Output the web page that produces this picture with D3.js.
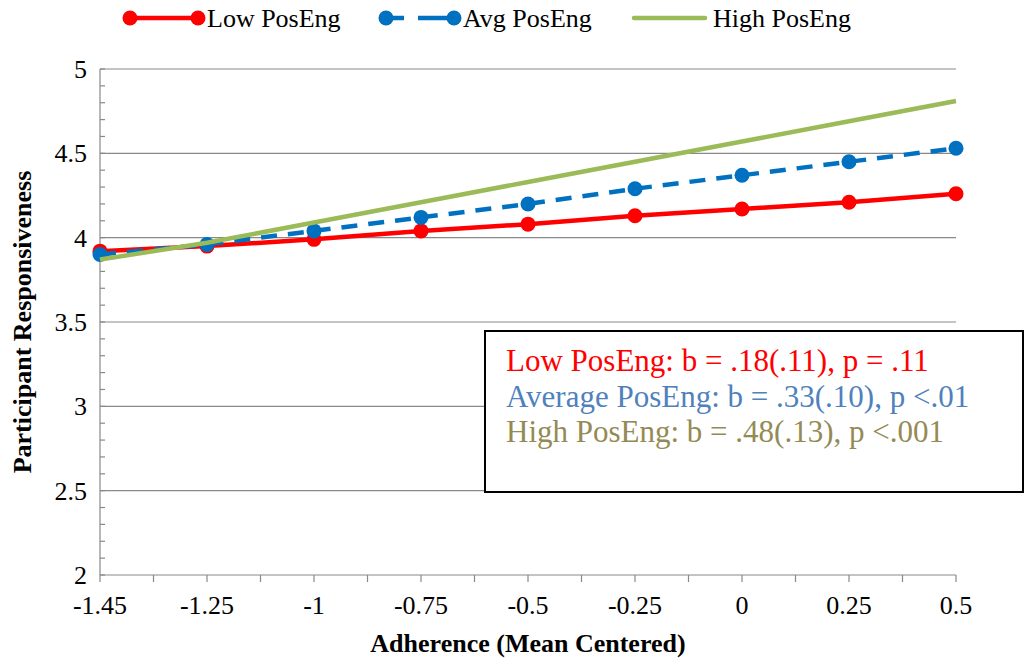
<!DOCTYPE html>
<html>
<head>
<meta charset="utf-8">
<script src="https://cdn.jsdelivr.net/npm/d3@7"></script>
<style>
  body { margin: 0; background: #fff; }
  svg { font-family: "Liberation Serif", "Times New Roman", serif; }
</style>
</head>
<body>
<script>
// categories on the x axis (Excel category axis, evenly spaced)
const adherence = ["-1.45", "-1.25", "-1", "-0.75", "-0.5", "-0.25", "0", "0.25", "0.5"];

// values
const lowPosEng  = [3.92, 3.95, 3.99, 4.04, 4.08, 4.13, 4.17, 4.21, 4.26];
const avgPosEng  = [3.90, 3.96, 4.04, 4.12, 4.20, 4.29, 4.37, 4.45, 4.53];
const highPosEng = [3.87, 3.97, 4.09, 4.21, 4.33, 4.45, 4.57, 4.69, 4.81];

const yTicks = [2, 2.5, 3, 3.5, 4, 4.5, 5];

const notes = [
  {text: "Low PosEng: b = .18(.11), p = .11", color: "#ff0000"},
  {text: "Average PosEng: b = .33(.10), p <.01", color: "#4f81bd"},
  {text: "High PosEng: b = .48(.13), p <.001", color: "#948a54"}
];

const width = 1026, height = 661;
const margin = {left: 100, right: 70, top: 69, bottom: 86};

const svg = d3.select("body").append("svg")
  .attr("width", width)
  .attr("height", height);

const x = d3.scalePoint()
  .domain(adherence)
  .range([margin.left, width - margin.right]);

const y = d3.scaleLinear()
  .domain([2, 5])
  .range([height - margin.bottom, margin.top]);

const gridColor = "#898989";

// gridlines
svg.append("g")
  .selectAll("line")
  .data(yTicks.slice(1))
  .join("line")
  .attr("x1", margin.left).attr("x2", width - margin.right)
  .attr("y1", d => y(d)).attr("y2", d => y(d))
  .attr("stroke", gridColor).attr("stroke-width", 1.2);

// y axis with minor ticks pointing inward
const yAxis = svg.append("g").attr("transform", `translate(${margin.left},0)`);
yAxis.append("line")
  .attr("x1", 0).attr("x2", 0)
  .attr("y1", y(2)).attr("y2", y(5))
  .attr("stroke", gridColor).attr("stroke-width", 1.2);
yAxis.selectAll("line.minor")
  .data(d3.range(20, 51).map(d => d / 10))
  .join("line").attr("class", "minor")
  .attr("x1", 0).attr("x2", 5)
  .attr("y1", d => y(d)).attr("y2", d => y(d))
  .attr("stroke", gridColor).attr("stroke-width", 1.2);
yAxis.selectAll("text")
  .data(yTicks)
  .join("text")
  .attr("x", -13).attr("y", d => y(d) + 9)
  .attr("text-anchor", "end")
  .attr("font-size", 26)
  .text(d => d);

// x axis
const xAxis = svg.append("g").attr("transform", `translate(0,${y(2)})`);
xAxis.append("line")
  .attr("x1", margin.left).attr("x2", width - margin.right)
  .attr("stroke", gridColor).attr("stroke-width", 1.2);
const step = x.step();
const xTickPos = [];
adherence.forEach((c, i) => {
  xTickPos.push(x(c));
  if (i < adherence.length - 1) xTickPos.push(x(c) + step / 2);
});
xAxis.selectAll("line.tick")
  .data(xTickPos)
  .join("line").attr("class", "tick")
  .attr("x1", d => d).attr("x2", d => d)
  .attr("y1", 0).attr("y2", 7)
  .attr("stroke", gridColor).attr("stroke-width", 1.2);
xAxis.selectAll("text")
  .data(adherence)
  .join("text")
  .attr("x", d => x(d)).attr("y", 39)
  .attr("text-anchor", "middle")
  .attr("font-size", 26)
  .text(d => d);

// axis titles
svg.append("text")
  .attr("x", (margin.left + width - margin.right) / 2).attr("y", 652)
  .attr("text-anchor", "middle")
  .attr("font-size", 26).attr("font-weight", "bold")
  .text("Adherence (Mean Centered)");

svg.append("text")
  .attr("transform", `translate(31,${(y(2) + y(5)) / 2}) rotate(-90)`)
  .attr("text-anchor", "middle")
  .attr("font-size", 26).attr("font-weight", "bold")
  .text("Participant Responsiveness");

// series
const line = d3.line()
  .x((d, i) => x(adherence[i]))
  .y(d => y(d));

const series = [
  {name: "Low PosEng", values: lowPosEng, color: "#ff0000", dash: null, markers: true},
  {name: "Avg PosEng", values: avgPosEng, color: "#0070c0", dash: "16,11", markers: true},
  {name: "High PosEng", values: highPosEng, color: "#9bbb59", dash: null, markers: false}
];

series.forEach(s => {
  svg.append("path")
    .datum(s.values)
    .attr("fill", "none")
    .attr("stroke", s.color)
    .attr("stroke-width", 4.5)
    .attr("stroke-dasharray", s.dash)
    .attr("d", line);
  if (s.markers) {
    svg.append("g")
      .selectAll("circle")
      .data(s.values)
      .join("circle")
      .attr("cx", (d, i) => x(adherence[i]))
      .attr("cy", d => y(d))
      .attr("r", 7.5)
      .attr("fill", s.color);
  }
});

// legend
const legendX = [130, 386, 634];
series.forEach((s, i) => {
  const g = svg.append("g").attr("transform", `translate(${legendX[i]},18)`);
  g.append("line")
    .attr("x1", 0).attr("x2", s.markers ? 68 : 71)
    .attr("stroke", s.color).attr("stroke-width", 4.5)
    .attr("stroke-linecap", s.markers ? "butt" : "round")
    .attr("stroke-dasharray", s.dash ? "18,14,40" : null);
  if (s.markers) {
    g.selectAll("circle")
      .data([0, 68])
      .join("circle")
      .attr("cx", d => d).attr("cy", 0).attr("r", 7.5)
      .attr("fill", s.color);
  }
  g.append("text")
    .attr("x", s.markers ? 77 : 79).attr("y", 9)
    .attr("font-size", 26)
    .text(s.name);
});

// annotation box
const box = svg.append("g").attr("transform", "translate(485,331)");
box.append("rect")
  .attr("width", 538).attr("height", 161)
  .attr("fill", "#fff")
  .attr("stroke", "#000").attr("stroke-width", 2);
box.selectAll("text")
  .data(notes)
  .join("text")
  .attr("x", 21).attr("y", (d, i) => 40 + i * 35.5)
  .attr("font-size", 31)
  .attr("fill", d => d.color)
  .text(d => d.text);
</script>
</body>
</html>
